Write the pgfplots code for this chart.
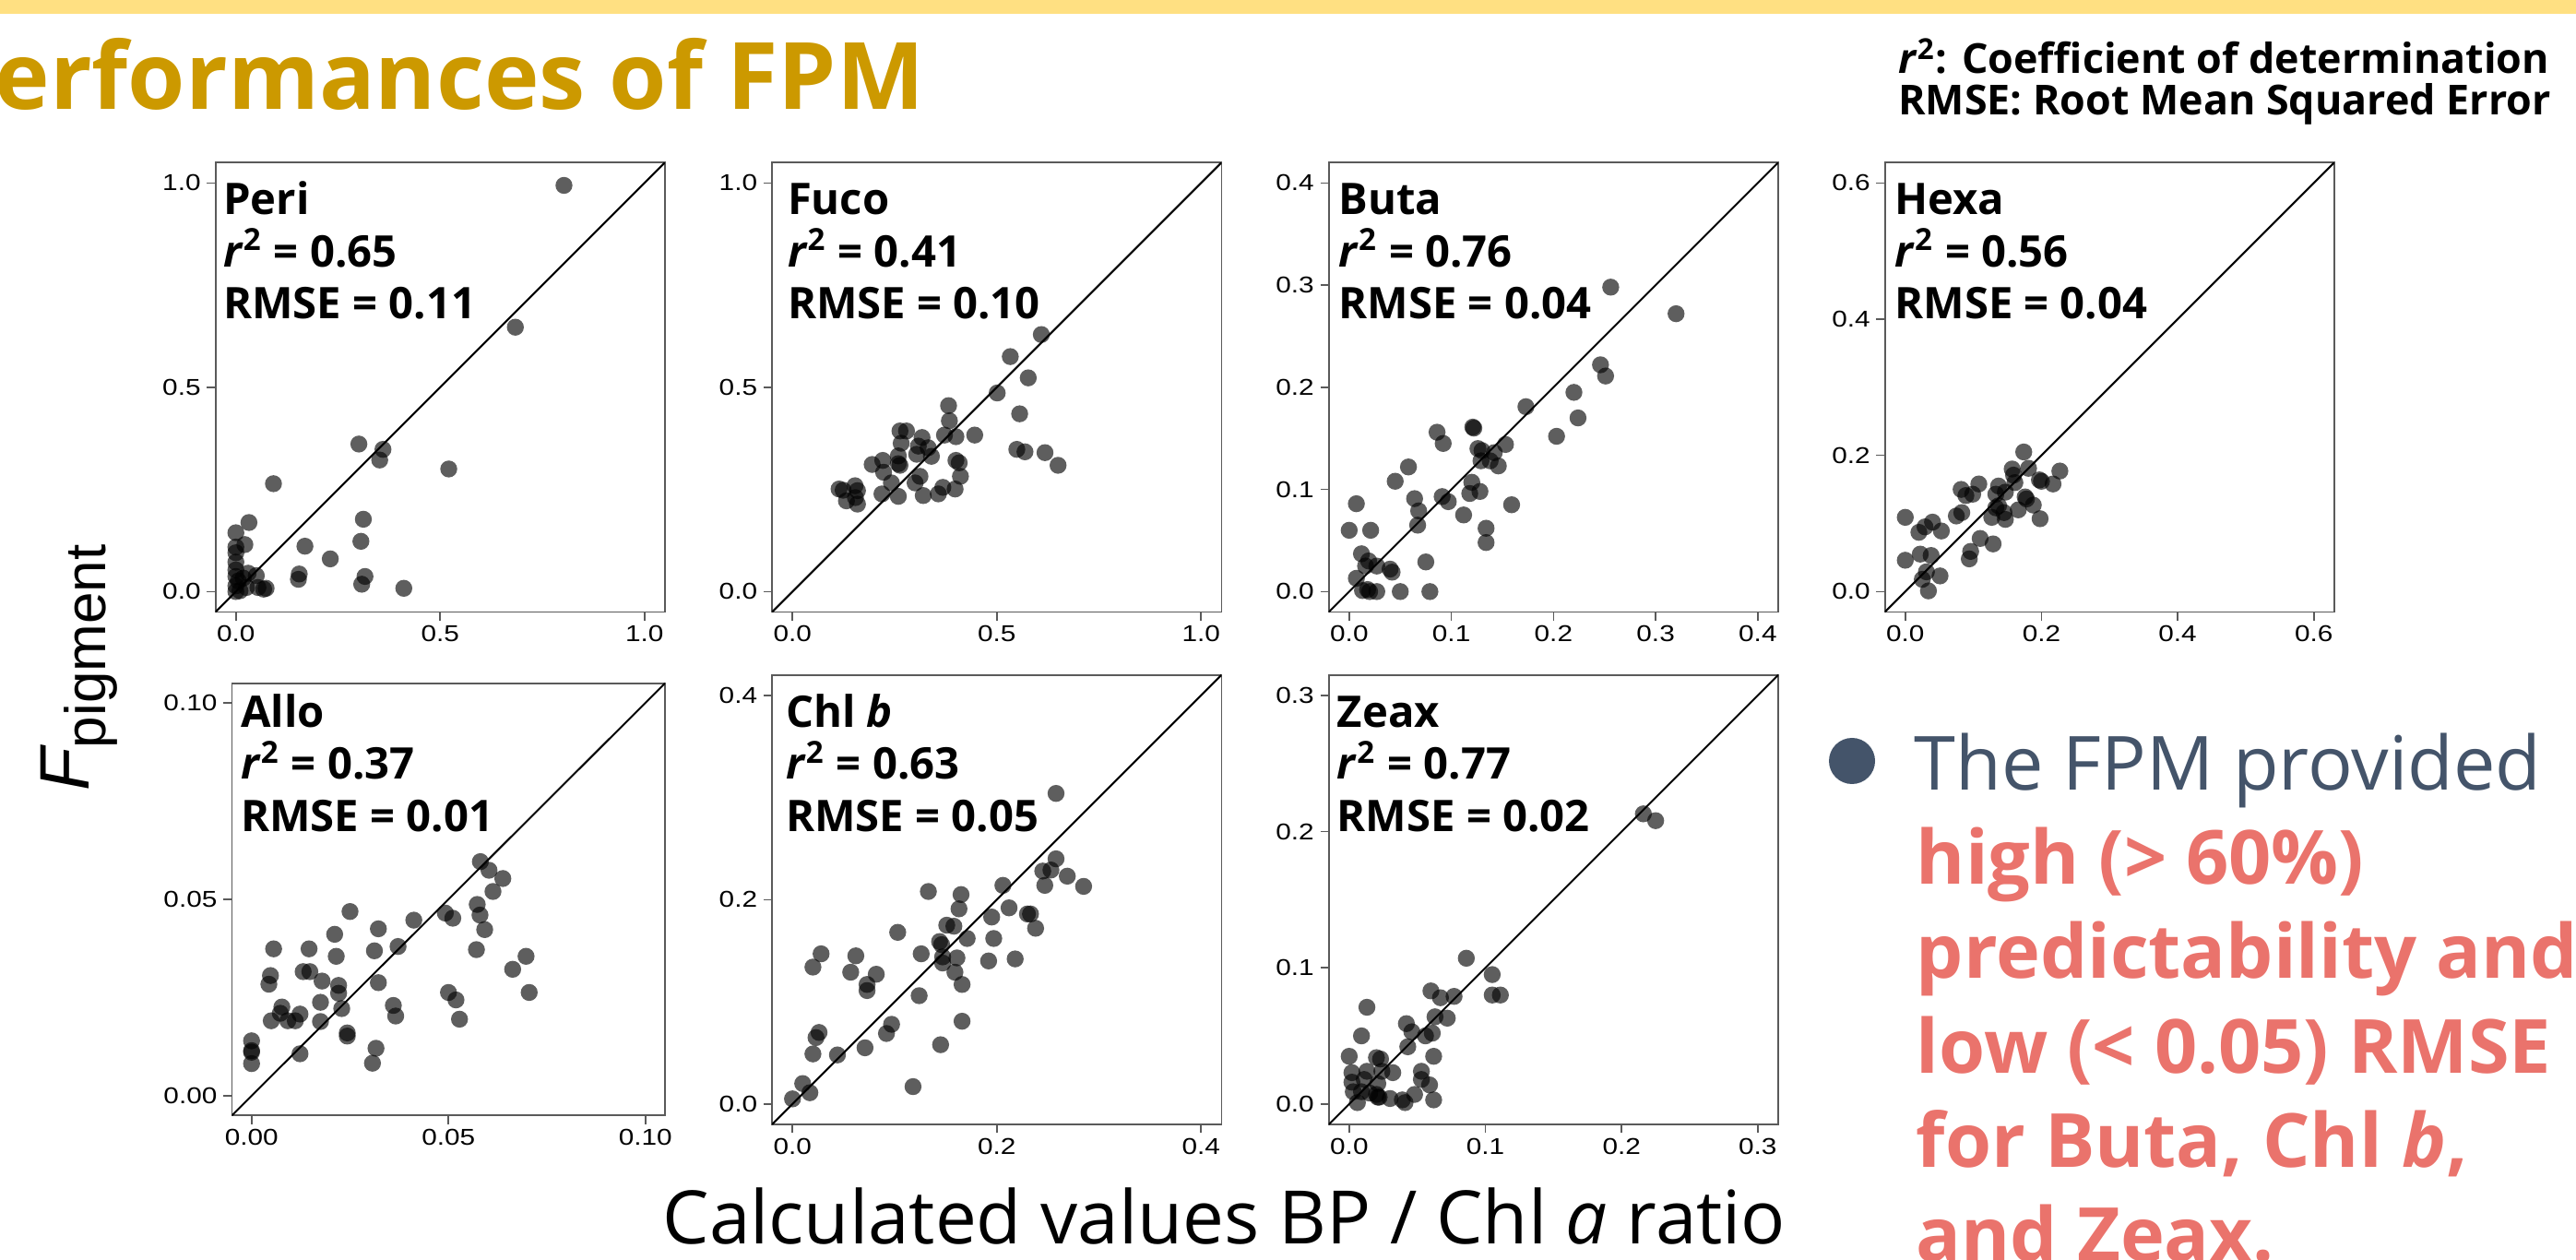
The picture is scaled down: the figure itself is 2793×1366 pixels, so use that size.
\documentclass[border=0pt]{standalone}
\usepackage{pgfplots}
\pgfplotsset{compat=1.18}
\usepackage{fontspec}
\setmainfont{Open Sans}
\newfontfamily\arialfont{Liberation Sans}
\newfontfamily\tickfont[FakeStretch=1.2]{Liberation Sans}
\definecolor{gold}{RGB}{204,153,0}
\definecolor{bandyellow}{RGB}{255,224,130}
\definecolor{slate}{RGB}{68,84,106}
\definecolor{salmon}{RGB}{234,115,108}
\definecolor{boxgray}{RGB}{90,90,90}
\pgfplotsset{
  panel/.style={
    scale only axis,
    anchor=south west,
    axis line style={draw=boxgray, line width=0.45pt},
    tick align=outside,
    tick pos=left,
    major tick length=2.3pt,
    tick style={draw=boxgray, line width=0.4pt},
    tick label style={font=\tickfont\fontsize{6.2}{6.5}\selectfont, inner sep=0pt},
    xticklabel style={yshift=-1.2pt},
    yticklabel style={xshift=-1.5pt},
  },
  pts/.style={only marks, mark=*, mark size=2.3pt, draw opacity=0,
    mark options={draw=none, draw opacity=0, fill=black, fill opacity=0.63}},
  diag/.style={black, line width=0.5pt},
}
\newcommand{\ann}{\fontsize{11.8}{11.8}\selectfont\bfseries}
\begin{document}
\begin{tikzpicture}[x=0.25pt,y=-0.25pt]
\path[use as bounding box] (0,0) rectangle (2793,1366);
\clip (0,0) rectangle (2793,1366);
\fill[bandyellow] (0,0) rectangle (2793,14.7);
\node[anchor=base east, inner sep=0, text=gold] at (1003,119) {\fontsize{25.2}{25.2}\selectfont\bfseries Performances of FPM};
\node[anchor=base west, inner sep=0] at (2057.5,80) {\fontsize{11.2}{11.2}\selectfont\bfseries\textit{r}\textsuperscript{2}: Coefficient of determination};
\node[anchor=base west, inner sep=0] at (2057.5,125) {\fontsize{11.2}{11.2}\selectfont\bfseries RMSE: Root Mean Squared Error};

% Peri
\begin{axis}[panel, at={(58.4pt,-165.875pt)}, width=121.825pt, height=121.825pt,
  xmin=-0.05, xmax=1.05, ymin=-0.05, ymax=1.05,
  xtick={0,0.5,1}, xticklabels={0.0,0.5,1.0}, ytick={0,0.5,1}, yticklabels={0.0,0.5,1.0}]
\addplot[pts] coordinates {(0.803,0.994) (0.684,0.647) (0.301,0.361) (0.360,0.348) (0.352,0.322) (0.521,0.300) (0.092,0.264) (0.032,0.169) (0.312,0.177) (0.306,0.123) (0.169,0.111) (0.231,0.080) (0.155,0.043) (0.153,0.030) (0.316,0.037) (0.308,0.018) (0.411,0.008) (0.0,0.144) (0.022,0.115) (0.0,0.109) (0.0,0.095) (0.0,0.072) (0.0,0.053) (0.0,0.037) (0.006,0.026) (0.0,0.014) (0.010,0.002) (0.026,0.010) (0.030,0.045) (0.050,0.039) (0.054,0.010) (0.074,0.008) (0.068,0.006) (0.018,0.033) (0.0,0.0)};
\addplot[diag] coordinates {(-0.05,-0.05) (1.05,1.05)};
\end{axis}
% Fuco
\begin{axis}[panel, at={(209.275pt,-165.875pt)}, width=121.825pt, height=121.825pt,
  xmin=-0.05, xmax=1.05, ymin=-0.05, ymax=1.05,
  xtick={0,0.5,1}, xticklabels={0.0,0.5,1.0}, ytick={0,0.5,1}, yticklabels={0.0,0.5,1.0}]
\addplot[pts] coordinates {(0.609,0.629) (0.533,0.575) (0.577,0.523) (0.501,0.486) (0.556,0.435) (0.382,0.455) (0.384,0.418) (0.446,0.383) (0.400,0.379) (0.372,0.383) (0.263,0.393) (0.279,0.393) (0.266,0.363) (0.317,0.377) (0.308,0.356) (0.332,0.352) (0.340,0.331) (0.304,0.336) (0.259,0.332) (0.549,0.348) (0.569,0.342) (0.618,0.340) (0.650,0.309) (0.195,0.311) (0.221,0.321) (0.259,0.313) (0.263,0.309) (0.400,0.321) (0.408,0.315) (0.223,0.292) (0.411,0.282) (0.312,0.282) (0.300,0.266) (0.242,0.266) (0.368,0.255) (0.398,0.251) (0.114,0.251) (0.124,0.248) (0.153,0.259) (0.159,0.247) (0.219,0.239) (0.259,0.233) (0.320,0.235) (0.357,0.239) (0.132,0.222) (0.154,0.230) (0.159,0.214)};
\addplot[diag] coordinates {(-0.05,-0.05) (1.05,1.05)};
\end{axis}
% Buta
\begin{axis}[panel, at={(360.175pt,-165.875pt)}, width=121.825pt, height=121.825pt,
  xmin=-0.02, xmax=0.42, ymin=-0.02, ymax=0.42,
  xtick={0,0.1,0.2,0.3,0.4}, xticklabels={0.0,0.1,0.2,0.3,0.4}, ytick={0,0.1,0.2,0.3,0.4}, yticklabels={0.0,0.1,0.2,0.3,0.4}]
\addplot[pts] coordinates {(0.256,0.298) (0.320,0.272) (0.246,0.222) (0.251,0.211) (0.220,0.195) (0.224,0.170) (0.173,0.181) (0.203,0.152) (0.121,0.161) (0.122,0.160) (0.086,0.156) (0.092,0.145) (0.153,0.144) (0.126,0.140) (0.130,0.138) (0.142,0.136) (0.129,0.128) (0.138,0.128) (0.146,0.123) (0.058,0.122) (0.045,0.108) (0.120,0.107) (0.118,0.096) (0.128,0.098) (0.064,0.091) (0.091,0.093) (0.097,0.088) (0.007,0.086) (0.159,0.085) (0.068,0.079) (0.112,0.075) (0.067,0.065) (0.0,0.060) (0.021,0.060) (0.134,0.062) (0.134,0.048) (0.012,0.037) (0.019,0.030) (0.027,0.025) (0.016,0.025) (0.040,0.022) (0.042,0.019) (0.075,0.029) (0.007,0.013) (0.013,0.001) (0.018,0.002) (0.020,0.0) (0.027,0.0) (0.050,0.0) (0.079,0.0)};
\addplot[diag] coordinates {(-0.02,-0.02) (0.42,0.42)};
\end{axis}
% Hexa
\begin{axis}[panel, at={(510.9pt,-165.875pt)}, width=121.825pt, height=121.825pt,
  xmin=-0.03, xmax=0.63, ymin=-0.03, ymax=0.63,
  xtick={0,0.2,0.4,0.6}, xticklabels={0.0,0.2,0.4,0.6}, ytick={0,0.2,0.4,0.6}, yticklabels={0.0,0.2,0.4,0.6}]
\addplot[pts] coordinates {(0.174,0.205) (0.157,0.180) (0.181,0.181) (0.227,0.177) (0.159,0.171) (0.197,0.164) (0.200,0.162) (0.217,0.158) (0.137,0.155) (0.161,0.160) (0.108,0.158) (0.082,0.150) (0.089,0.141) (0.099,0.143) (0.133,0.143) (0.147,0.146) (0.176,0.139) (0.178,0.136) (0.188,0.127) (0.166,0.120) (0.137,0.126) (0.133,0.123) (0.145,0.116) (0.127,0.109) (0.147,0.106) (0.198,0.107) (0.075,0.111) (0.083,0.116) (0.0,0.109) (0.040,0.102) (0.029,0.095) (0.020,0.087) (0.053,0.089) (0.110,0.078) (0.129,0.070) (0.096,0.059) (0.094,0.048) (0.022,0.055) (0.038,0.053) (0.0,0.046) (0.031,0.029) (0.051,0.023) (0.025,0.018) (0.034,0.001)};
\addplot[diag] coordinates {(-0.03,-0.03) (0.63,0.63)};
\end{axis}
% Allo
\begin{axis}[panel, at={(62.85pt,-302.325pt)}, width=117.425pt, height=117.15pt,
  xmin=-0.005, xmax=0.105, ymin=-0.005, ymax=0.105,
  xtick={0,0.05,0.1}, xticklabels={0.00,0.05,0.10}, ytick={0,0.05,0.1}, yticklabels={0.00,0.05,0.10}]
\addplot[pts] coordinates {(0.0581,0.0596) (0.0603,0.0574) (0.0638,0.0553) (0.0613,0.0520) (0.0573,0.0487) (0.0580,0.0460) (0.0592,0.0423) (0.0571,0.0372) (0.0492,0.0465) (0.0511,0.0452) (0.0412,0.0447) (0.0250,0.0469) (0.0322,0.0425) (0.0211,0.0411) (0.0056,0.0374) (0.0146,0.0374) (0.0215,0.0355) (0.0312,0.0369) (0.0372,0.0380) (0.0697,0.0355) (0.0663,0.0322) (0.0705,0.0263) (0.0048,0.0306) (0.0044,0.0284) (0.0131,0.0316) (0.0148,0.0316) (0.0179,0.0292) (0.0221,0.0281) (0.0221,0.0261) (0.0322,0.0288) (0.0500,0.0263) (0.0519,0.0244) (0.0528,0.0195) (0.0360,0.0230) (0.0366,0.0203) (0.0229,0.0222) (0.0175,0.0238) (0.0175,0.0189) (0.0077,0.0226) (0.0073,0.0210) (0.0050,0.0191) (0.0092,0.0191) (0.0111,0.0191) (0.0123,0.0208) (0.0243,0.0160) (0.0243,0.0152) (0.0123,0.0107) (0.0316,0.0121) (0.0307,0.0083) (0.0,0.0140) (0.0,0.0115) (0.0,0.0111) (0.0,0.0082)};
\addplot[diag] coordinates {(-0.005,-0.005) (0.105,0.105)};
\end{axis}
% Chl b
\begin{axis}[panel, at={(209.275pt,-304.75pt)}, width=121.825pt, height=121.825pt,
  xmin=-0.02, xmax=0.42, ymin=-0.02, ymax=0.42,
  xtick={0,0.2,0.4}, xticklabels={0.0,0.2,0.4}, ytick={0,0.2,0.4}, yticklabels={0.0,0.2,0.4}]
\addplot[pts] coordinates {(0.258,0.304) (0.258,0.240) (0.245,0.228) (0.253,0.229) (0.269,0.223) (0.247,0.214) (0.285,0.213) (0.206,0.214) (0.133,0.208) (0.165,0.205) (0.163,0.191) (0.212,0.192) (0.195,0.183) (0.230,0.186) (0.233,0.186) (0.238,0.172) (0.151,0.175) (0.158,0.174) (0.103,0.168) (0.171,0.162) (0.197,0.162) (0.144,0.159) (0.146,0.156) (0.126,0.147) (0.028,0.147) (0.062,0.145) (0.147,0.144) (0.161,0.143) (0.147,0.138) (0.192,0.140) (0.218,0.142) (0.020,0.134) (0.057,0.129) (0.082,0.127) (0.159,0.129) (0.073,0.117) (0.073,0.111) (0.166,0.117) (0.124,0.106) (0.166,0.081) (0.097,0.078) (0.092,0.069) (0.026,0.070) (0.023,0.065) (0.020,0.049) (0.044,0.048) (0.071,0.055) (0.145,0.058) (0.118,0.017) (0.010,0.020) (0.017,0.011) (0.0,0.005)};
\addplot[diag] coordinates {(-0.02,-0.02) (0.42,0.42)};
\end{axis}
% Zeax
\begin{axis}[panel, at={(360.175pt,-304.75pt)}, width=121.825pt, height=121.825pt,
  xmin=-0.015, xmax=0.315, ymin=-0.015, ymax=0.315,
  xtick={0,0.1,0.2,0.3}, xticklabels={0.0,0.1,0.2,0.3}, ytick={0,0.1,0.2,0.3}, yticklabels={0.0,0.1,0.2,0.3}]
\addplot[pts] coordinates {(0.216,0.213) (0.225,0.208) (0.086,0.107) (0.105,0.095) (0.105,0.080) (0.111,0.080) (0.060,0.083) (0.067,0.078) (0.077,0.079) (0.013,0.071) (0.063,0.064) (0.072,0.063) (0.042,0.059) (0.046,0.053) (0.056,0.050) (0.061,0.052) (0.009,0.050) (0.043,0.042) (0.0,0.035) (0.020,0.034) (0.023,0.033) (0.062,0.035) (0.002,0.023) (0.013,0.024) (0.024,0.024) (0.032,0.023) (0.053,0.024) (0.053,0.018) (0.002,0.016) (0.011,0.018) (0.021,0.015) (0.059,0.014) (0.003,0.009) (0.009,0.009) (0.015,0.008) (0.020,0.007) (0.022,0.005) (0.030,0.004) (0.039,0.003) (0.041,0.001) (0.048,0.007) (0.062,0.003) (0.006,0.001) (0.021,0.005)};
\addplot[diag] coordinates {(-0.015,-0.015) (0.315,0.315)};
\end{axis}

% panel annotations
\foreach \xx/\nm/\rr/\rm in {241.4/Peri/0.65/0.11, 853.2/Fuco/0.41/0.10, 1450.7/Buta/0.76/0.04, 2053.6/Hexa/0.56/0.04}{
  \node[anchor=base west, inner sep=0] at (\xx,232.3) {\ann \nm};
  \node[anchor=base west, inner sep=0] at (\xx,289.1) {\ann\textit{r}\textsuperscript{2} = \rr};
  \node[anchor=base west, inner sep=0] at (\xx,346) {\ann RMSE = \rm};
}
\foreach \xx/\nm/\rr/\rm in {260.4/Allo/0.37/0.01, 851.4/Chl \textit{b}/0.63/0.05, 1449/Zeax/0.77/0.02}{
  \node[anchor=base west, inner sep=0] at (\xx,788.3) {\ann \nm};
  \node[anchor=base west, inner sep=0] at (\xx,845) {\ann\textit{r}\textsuperscript{2} = \rr};
  \node[anchor=base west, inner sep=0] at (\xx,901.7) {\ann RMSE = \rm};
}

% axis titles
\node[rotate=90, anchor=base west, inner sep=0] at (96.7,858.3) {\arialfont\fontsize{19}{19}\selectfont\itshape F\upshape\fontsize{15.5}{15.5}\selectfont\raisebox{-4.5pt}{pigment}};
\node[anchor=base, inner sep=0] at (1327.5,1348) {\fontsize{20}{20}\selectfont Calculated values BP / Chl \textit{a} ratio};

% bullet text
\fill[slate] (2008,825) circle (6.25pt);
\node[anchor=base west, inner sep=0, text=slate] at (2074.7,856.6) {\fontsize{20.25}{20.25}\selectfont The FPM provided};
\foreach \yy/\tx in {958.8/{high (> 60\%)}, 1061/{predictability and}, 1163/{low (< 0.05) RMSE}, 1265.5/{for Buta, Chl \textit{b},}, 1367/{and Zeax.}}{
  \node[anchor=base west, inner sep=0, text=salmon] at (2077,\yy) {\fontsize{20.25}{20.25}\selectfont\bfseries \tx};
}
\end{tikzpicture}
\end{document}
